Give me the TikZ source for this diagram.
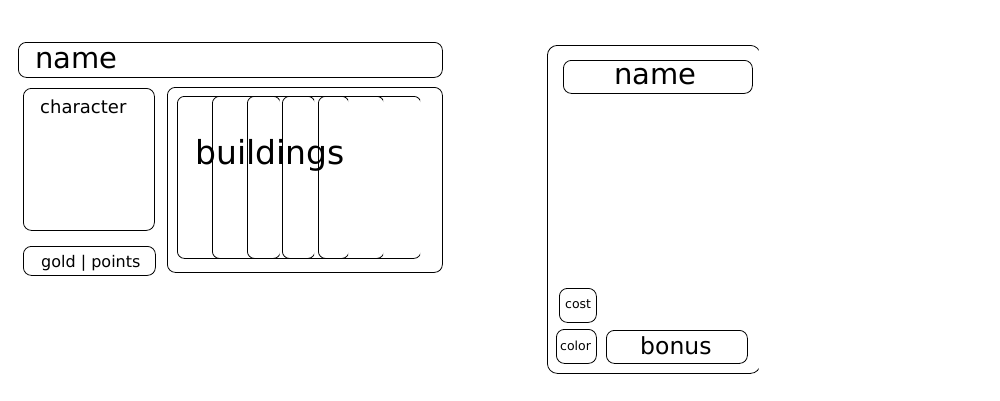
\documentclass[tikz,border=0pt]{standalone}
\usepackage{fontspec}
\setmainfont{DejaVu Sans}
\begin{document}
\begin{tikzpicture}[x=1pt,y=-1pt,
  box/.style={draw=black,line width=0.8pt,rounded corners=8pt,inner sep=0pt,anchor=north west},
  lbl/.style={inner sep=0pt,anchor=base west,text=black}]
\useasboundingbox (0,0) rectangle (1000,400);
% ---- left panel ----
\node[box,minimum width=424pt,minimum height=35pt] (namebar) at (18,42) {};
\node[lbl,font=\fontsize{29}{29}\selectfont] (nametext) at (35,68) {name};
\node[box,minimum width=131pt,minimum height=142pt] (charbox) at (23,88) {};
\node[lbl,font=\fontsize{18}{18}\selectfont] (chartext) at (40,113) {character};
\node[box,minimum width=132pt,minimum height=29pt] (goldbox) at (23,246) {};
\node[lbl,font=\fontsize{16}{16}\selectfont] (goldtext) at (41,267) {gold | points};
\node[box,minimum width=275pt,minimum height=185pt] (bldbox) at (167,87) {};
\foreach \i/\x/\w in {1/177/103,2/212/102.5,3/247/101.5,4/282/101.5,5/318/102.5}{
  \begin{scope}
  \clip (\x-3,90) rectangle (\x+\w-0.45,262);
  \node[box,minimum width=\w pt,minimum height=162pt,rounded corners=7pt] (card\i) at (\x,96) {};
  \end{scope}
}
\node[lbl,font=\fontsize{33}{33}\selectfont] (bldtext) at (195,164) {buildings};
% ---- right card ----
\begin{scope}
\clip (540,40) rectangle (758.5,380);
\node[box,minimum width=213pt,minimum height=328pt,rounded corners=10pt] (rcard) at (547,45) {};
\end{scope}
\node[box,minimum width=189pt,minimum height=33pt] (rnamebox) at (563,60) {};
\node[lbl,font=\fontsize{29}{29}\selectfont] (rnametext) at (614,84) {name};
\node[box,minimum width=37pt,minimum height=34pt] (costbox) at (559,288) {};
\node[lbl,font=\fontsize{12.5}{12.5}\selectfont] (costtext) at (565,308) {cost};
\node[box,minimum width=40pt,minimum height=34pt] (colorbox) at (556,329) {};
\node[lbl,font=\fontsize{12.5}{12.5}\selectfont] (colortext) at (560,350) {color};
\node[box,minimum width=141pt,minimum height=33pt] (bonusbox) at (606,330) {};
\node[lbl,font=\fontsize{23.5}{23.5}\selectfont] (bonustext) at (640,354) {bonus};
\end{tikzpicture}
\end{document}
